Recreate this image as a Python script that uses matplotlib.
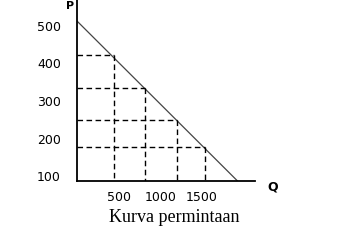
import matplotlib
matplotlib.use('agg')
import matplotlib.pyplot as plt

# demand curve end points (Q, P)
line_q = [0, 1930]
line_p = [513, 87]

# points on the curve marked with dashed guides
point_q = [440, 820, 1200, 1540]
point_p = [423, 335, 250, 177]

y_ticks = [500, 400, 300, 200, 100]
x_ticks = [500, 1000, 1500]

W, H = 338, 242
fig = plt.figure(figsize=(W / 100, H / 100), dpi=100)
ax = fig.add_axes([77 / W, 61 / H, (255 - 77) / W, 181 / H])

ax.plot(line_q, line_p, color='#444444', linewidth=0.9)
for q, p in zip(point_q, point_p):
    ax.plot([0, q], [p, p], color='black', linewidth=1, linestyle=(0, (4, 2.5)))
    ax.plot([q, q], [p, 87], color='black', linewidth=1, linestyle=(0, (4, 2.5)))

ax.set_xlim(0, 2140)
ax.set_ylim(87, 569)
for s in ['top', 'right']:
    ax.spines[s].set_visible(False)
for s in ['left', 'bottom']:
    ax.spines[s].set_linewidth(1.3)
    ax.spines[s].set_color('black')

ax.set_yticks(y_ticks)
ax.set_yticklabels([str(v) for v in y_ticks])
ax.set_xticks(x_ticks)
ax.set_xticklabels([str(v) for v in x_ticks])
ax.tick_params(axis='y', length=0, pad=11.5, labelsize=9)
ax.tick_params(axis='x', length=0, pad=7, labelsize=9)

fig.text(273 / W, 1 - 187 / H, 'Q', fontsize=9, fontweight='bold',
         ha='center', va='center')
fig.text(70 / W, 0.995, 'P', fontsize=8, fontweight='bold',
         ha='center', va='top')
fig.text(174 / W, 1 - 218 / H, 'Kurva permintaan', fontsize=13,
         family='Liberation Serif', ha='center', va='center')

plt.savefig('out.png', dpi=100)
